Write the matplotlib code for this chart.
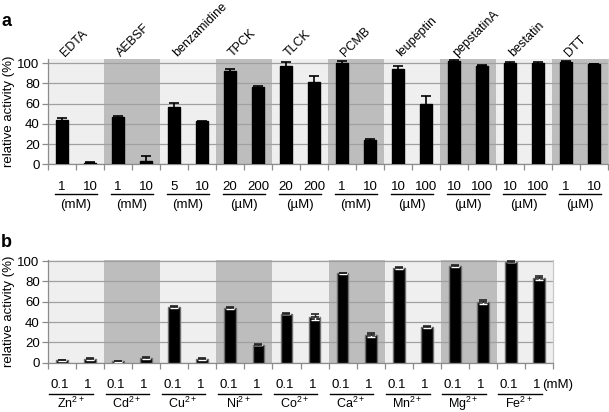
import matplotlib
matplotlib.use("Agg")
import matplotlib.pyplot as plt
import numpy as np
from matplotlib.transforms import blended_transform_factory, ScaledTranslation

plt.rcParams['font.family'] = ['Liberation Sans', 'DejaVu Sans']
plt.rcParams['mathtext.fontset'] = 'custom'
plt.rcParams['mathtext.rm'] = 'Liberation Sans'
plt.rcParams['mathtext.it'] = 'Liberation Sans:italic'
plt.rcParams['mathtext.bf'] = 'Liberation Sans:bold'

# ---------------- data panel a ----------------
groups_a = ["EDTA", "AEBSF", "benzamidine", "TPCK", "TLCK", "PCMB",
            "leupeptin", "pepstatinA", "bestatin", "DTT"]
conc_a = ["1", "10", "1", "10", "5", "10", "20", "200", "20", "200",
          "1", "10", "10", "100", "10", "100", "10", "100", "1", "10"]
units_a = ["(mM)", "(mM)", "(mM)", "(µM)", "(µM)", "(mM)", "(µM)", "(µM)", "(µM)", "(µM)"]
vals_a = [43.5, 1.5, 46.5, 3, 57, 42.5, 92.5, 76.5, 97.5, 81.5,
          100, 24, 94, 60, 102, 97.5, 100.5, 100.5, 101.5, 99]
errs_a = [2.4, 0.3, 1.6, 5, 4, 0.5, 1.7, 0.7, 4, 6,
          2, 1, 3, 7, 0.7, 0.4, 1, 1, 0.4, 0.3]

# ---------------- data panel b ----------------
groups_b = [r"Zn$^{2+}$", r"Cd$^{2+}$", r"Cu$^{2+}$", r"Ni$^{2+}$", r"Co$^{2+}$",
            r"Ca$^{2+}$", r"Mn$^{2+}$", r"Mg$^{2+}$", r"Fe$^{2+}$"]
conc_b = ["0.1", "1"] * 9
vals_b = [2.5, 4, 1.5, 5, 55, 3.5, 54, 17.5, 48, 45,
          88, 27, 93, 35, 95, 60, 99.5, 83.5]
errs_b = [0.5, 1, 0.3, 1, 1.2, 0.8, 1, 0.5, 0.5, 3,
          0.5, 2, 0.7, 0.7, 1, 2, 0.5, 2]

yticks = [0, 20, 40, 60, 80, 100]

LIGHT = "#efefef"
DARK = "#bdbdbd"
GRID = "#a0a0a0"
SPINE = "#8c8c8c"

fig = plt.figure(figsize=(6.09, 4.12), dpi=100)
W, H = 609.0, 412.0

def make_axes(x0, x1, ytop, ybot):
    return fig.add_axes([x0 / W, 1 - ybot / H, (x1 - x0) / W, (ybot - ytop) / H])

ax_a = make_axes(48, 608, 59.3, 164.3)
ax_b = make_axes(48, 553, 260.0, 362.8)

def style_axes(ax, ngroups, ymax):
    n = 2 * ngroups
    ax.set_xlim(-0.5, n - 0.5)
    ax.set_ylim(0, ymax)
    for g in range(ngroups):
        ax.axvspan(2 * g - 0.5, 2 * g + 1.5, color=(LIGHT if g % 2 == 0 else DARK),
                   zorder=0, lw=0)
    for t in yticks:
        ax.axhline(t, color=GRID, lw=0.9, zorder=1)
    ax.set_yticks(yticks)
    ax.set_xticks(np.arange(-0.5, n, 1.0))
    ax.set_xticklabels([])
    ax.tick_params(axis='both', colors=SPINE, length=4, width=0.9, labelsize=9.5,
                   labelcolor='black', pad=2)
    for s in ax.spines.values():
        s.set_color(SPINE)
        s.set_linewidth(0.9)
    ax.spines['top'].set_visible(False)
    ax.spines['right'].set_color("#c8c8c8")
    ax.set_ylabel("relative activity (%)", fontsize=9.5, labelpad=2)

style_axes(ax_a, len(groups_a), 103.7)
style_axes(ax_b, len(groups_b), 101.0)

# bars panel a
xa = np.arange(len(vals_a))
ax_a.bar(xa, vals_a, width=0.42, color='black', edgecolor='black', zorder=3)
ax_a.errorbar(xa, vals_a, yerr=errs_a, fmt='none', ecolor='black', elinewidth=1.2,
              capsize=3.5, capthick=1.2, zorder=4)

# bars panel b
xb = np.arange(len(vals_b))
ax_b.bar(xb, vals_b, width=0.42, color='black', edgecolor='#6e6e6e', lw=1.0, zorder=3)
zeros_b = [0] * len(errs_b)
ax_b.errorbar(xb, vals_b, yerr=[errs_b, zeros_b], fmt='none', ecolor='white',
              elinewidth=1.0, capsize=3, capthick=1.0, zorder=4)
ax_b.errorbar(xb, vals_b, yerr=[zeros_b, errs_b], fmt='none', ecolor='#222222',
              elinewidth=1.0, capsize=3, capthick=1.2, zorder=4)

# rotated group labels on top of panel a
for g, name in enumerate(groups_a):
    ax_a.annotate(name, xy=(2 * g + 0.5, 1.0), xycoords=('data', 'axes fraction'),
                  xytext=(-11, 2), textcoords='offset pixels', rotation=45,
                  rotation_mode='anchor', ha='left', va='baseline', fontsize=9)

def below(ax, text, x, dy, ha='center', va='center', dx=0, size=9.5):
    ax.annotate(text, xy=(x, 0), xycoords=('data', 'axes fraction'),
                xytext=(dx, dy), textcoords='offset pixels', ha=ha, va=va,
                fontsize=size, annotation_clip=False)

def underline(ax, x0, x1, dy_px):
    tr = blended_transform_factory(ax.transData, ax.transAxes) + \
        ScaledTranslation(0, dy_px / 100.0, fig.dpi_scale_trans)
    ax.plot([x0, x1], [0, 0], color='black', lw=1.0, transform=tr, clip_on=False)

# concentration labels panel a
for i, c in enumerate(conc_a):
    below(ax_a, c, i, -22.5)
for g, u in enumerate(units_a):
    below(ax_a, u, 2 * g + 0.5, -40.5)
    underline(ax_a, 2 * g - 0.25, 2 * g + 1.25, -29.5)

# concentration labels panel b
for i, c in enumerate(conc_b):
    below(ax_b, c, i, -22, dx=-2)
below(ax_b, "(mM)", len(conc_b) - 1, -22, ha='left', dx=3)
for g, name in enumerate(groups_b):
    below(ax_b, name, 2 * g + 0.3, -45.5, va='baseline', size=9)
    underline(ax_b, 2 * g - 0.45, 2 * g + 1.1, -31)

# panel letters
fig.text(1 / W, 1 - 21 / H, "a", fontsize=13, fontweight='bold', va='center', ha='left')
fig.text(1 / W, 1 - 243 / H, "b", fontsize=13, fontweight='bold', va='center', ha='left')

fig.savefig("out.png", dpi=100)
